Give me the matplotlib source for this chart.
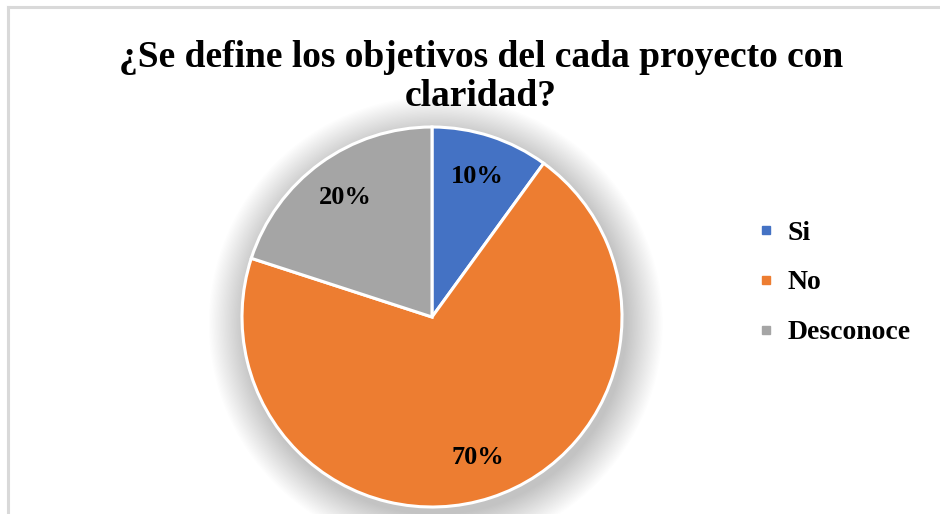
import numpy as np
import matplotlib
matplotlib.use('Agg')
import matplotlib.pyplot as plt
from matplotlib.lines import Line2D
from matplotlib.patches import Circle

plt.rcParams['font.family'] = ['Liberation Serif', 'DejaVu Serif']
plt.rcParams['font.weight'] = 'bold'

title = '¿Se define los objetivos del cada proyecto con\nclaridad?'
categories = ['Si', 'No', 'Desconoce']
values = [10, 70, 20]
colors = ['#4472C4', '#ED7D31', '#A5A5A5']

W, H = 940, 514
fig = plt.figure(figsize=(W / 100, H / 100), dpi=100, facecolor='white')

# marco gris (solo arriba e izquierda visibles)
fig.add_artist(Line2D([8 / W, 1], [1 - 7 / H, 1 - 7 / H], color='#D9D9D9', lw=2.2))
fig.add_artist(Line2D([8 / W, 8 / W], [0, 1 - 7 / H], color='#D9D9D9', lw=2.2))

fig.text(481 / W, 1 - 77 / H, title, ha='center', va='center', fontsize=27,
         fontweight='bold', linespacing=1.15)

cx, cy, r = 432, 317, 190
ax = fig.add_axes([(cx - r) / W, (H - cy - r) / H, 2 * r / W, 2 * r / H])

# sombra suave
for i in range(30):
    rad = 1.0 + 0.0065 * (i + 1)
    ax.add_patch(Circle((0.02, -0.035), rad, color='black', alpha=0.006,
                        lw=0, clip_on=False, zorder=0))

wedges, texts, autotexts = ax.pie(values, colors=colors, startangle=90, counterclock=False,
                                  autopct='%1.0f%%', pctdistance=0.78,
                                  wedgeprops=dict(edgecolor='white', linewidth=2.2))
for w in wedges:
    w.set_clip_on(False)
    w.set_zorder(2)
for t in autotexts:
    t.set_fontsize(19)
    t.set_fontweight('bold')
    t.set_color('black')
ax.set_xlim(-1, 1)
ax.set_ylim(-1, 1)
ax.set_aspect('equal')
ax.axis('off')

handles = [Line2D([], [], marker='s', ls='', markersize=6, color=c) for c in colors]
leg = fig.legend(handles, categories, loc='upper left', bbox_to_anchor=(747 / W, 1 - 209 / H),
                 frameon=False, prop={'size': 20, 'weight': 'bold'}, handlelength=0.6,
                 handletextpad=0.45, labelspacing=0.88, borderaxespad=0)

fig.savefig('out.png', dpi=100)
